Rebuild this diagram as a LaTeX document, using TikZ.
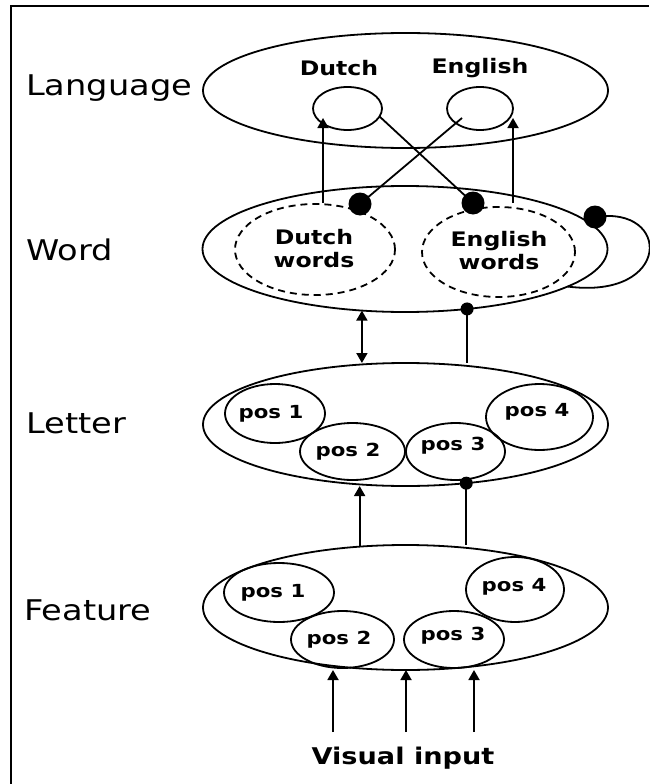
\documentclass[tikz,border=0pt]{standalone}
\usepackage{fontspec}
\setmainfont{DejaVu Sans}[FakeStretch=1.18]
\usetikzlibrary{shapes.geometric,arrows.meta}

\tikzset{
  layer/.style={ellipse, draw, inner sep=0pt, outer sep=0pt, minimum width=405pt},
  unit/.style={ellipse, draw, inner sep=0pt, outer sep=0pt},
  group/.style={unit, dash pattern=on 7pt off 5pt},
  levelname/.style={anchor=west, font=\fontsize{28.5}{32}\selectfont},
  langname/.style={font=\bfseries\fontsize{20}{23}\selectfont},
  grouptext/.style={align=center, font=\bfseries\fontsize{20}{23}\selectfont},
  postext/.style={font=\bfseries\fontsize{18}{20}\selectfont},
  inputtext/.style={font=\bfseries\fontsize{23}{26}\selectfont},
  arr/.style={-{Triangle[length=10pt,width=11pt]}},
  dblarr/.style={{Triangle[length=10pt,width=11pt]}-{Triangle[length=10pt,width=11pt]}},
  bigdot/.style={circle, fill, inner sep=0pt, minimum size=23pt},
  smalldot/.style={circle, fill, inner sep=0pt, minimum size=13pt}
}

\begin{document}
\begin{tikzpicture}[x=1pt, y=-1pt, line width=1.8pt]
  \useasboundingbox (0,0) rectangle (649,784);

  % frame (top and left edges)
  \draw[line width=2.2pt] (11,784) -- (11,6) -- (649,6);

  % level names
  \node[levelname] (nLang) at (22,88)  {Language};
  \node[levelname] (nWord) at (22,250) {Word};
  \node[levelname] (nLet)  at (22,423) {Letter};
  \node[levelname] (nFeat) at (20,610) {Feature};

  % language level
  \node[layer, minimum height=115pt] (lang) at (405.5,90.5) {};
  \node[unit, minimum width=69pt, minimum height=43pt] (langD) at (347.5,108.5) {};
  \node[unit, minimum width=66pt, minimum height=43pt] (langE) at (480,108.5) {};
  \node[langname] (tD) at (339,68) {Dutch};
  \node[langname] (tE) at (480,68) {English};

  % word level
  \node[layer, minimum height=126pt] (word) at (405,249) {};
  \node[group, minimum width=160pt, minimum height=91pt] (dw) at (315,249.5) {};
  \node[group, minimum width=153pt, minimum height=90pt] (ew) at (498.5,252) {};
  \node[grouptext] (tdw) at (314,249) {Dutch\\words};
  \node[grouptext] (tew) at (499,251) {English\\words};

  % letter level
  \node[layer, minimum height=123pt] (letter) at (405.5,424.5) {};
  \node[unit, minimum width=100pt, minimum height=59pt] (l1) at (275,413.5) {};
  \node[unit, minimum width=105pt, minimum height=57pt] (l2) at (352.5,451.5) {};
  \node[unit, minimum width=99pt,  minimum height=57pt] (l3) at (455.5,451.5) {};
  \node[unit, minimum width=107pt, minimum height=66pt] (l4) at (539.5,417) {};
  \node[postext] at (271,414) {pos 1};
  \node[postext] at (348,452) {pos 2};
  \node[postext] at (453,446) {pos 3};
  \node[postext] at (537,412) {pos 4};

  % feature level
  \node[layer, minimum height=125pt] (feat) at (405.5,607.5) {};
  \node[unit, minimum width=110pt, minimum height=59pt] (f1) at (279,592.5) {};
  \node[unit, minimum width=103pt, minimum height=57pt] (f2) at (342.5,639.5) {};
  \node[unit, minimum width=100pt, minimum height=57pt] (f3) at (454,639.5) {};
  \node[unit, minimum width=98pt,  minimum height=65pt] (f4) at (515,589.5) {};
  \node[postext] at (273,593) {pos 1};
  \node[postext] at (339,640) {pos 2};
  \node[postext] at (453,636) {pos 3};
  \node[postext] at (514,587) {pos 4};

  \node[inputtext] (vis) at (403,758) {Visual input};

  % word -> language connections
  \coordinate (dUp)  at (323,203);
  \coordinate (dIn)  at (323,118);
  \coordinate (eUp)  at (513,203);
  \coordinate (eIn)  at (513,118);
  \coordinate (eMid) at (462,118);
  \draw[arr] (dUp) -- (dIn);
  \draw[arr] (eUp) -- (eIn);

  % inhibition between languages and words
  \node[bigdot] (inhD) at (360,204) {};
  \node[bigdot] (inhE) at (473,203) {};
  \draw (inhD.center) -- (eMid);
  \draw (langD.-14) -- (inhE.center);

  % lateral inhibition within the word level
  \node[bigdot] (inhW) at (595,217) {};
  \draw (inhW.center) .. controls (672,205) and (672,300) .. (word.-13);

  % word <-> letter
  \draw[dblarr] (word.235) -- (word.235 |- letter.north);
  \node[smalldot] (inhWL) at (word.316) {};
  \draw (inhWL.center) -- (inhWL.center |- letter.north);

  % letter <- feature
  \draw[arr] (feat.127) -- (feat.127 |- letter.south);
  \node[smalldot] (inhLF) at (letter.316) {};
  \draw (inhLF.center) -- (inhLF.center |- feat.north);

  % visual input
  \coordinate (v1) at (333,732);
  \coordinate (v2) at (406,732);
  \coordinate (v3) at (474,732);
  \draw[arr] (v1) -- (v1 |- feat.south);
  \draw[arr] (v2) -- (v2 |- feat.south);
  \draw[arr] (v3) -- (v3 |- feat.south);
\end{tikzpicture}
\end{document}
